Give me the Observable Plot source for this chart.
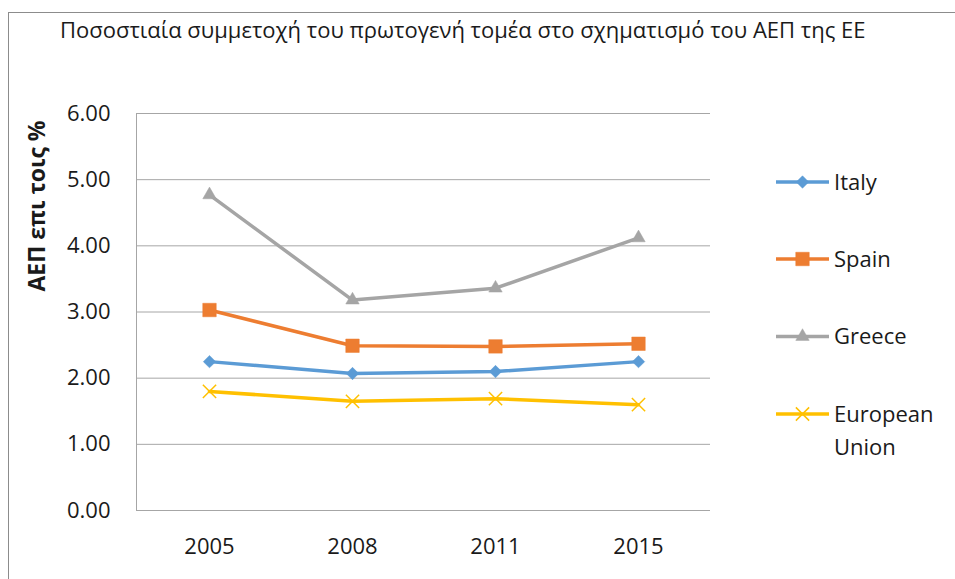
<!DOCTYPE html>
<html><head><meta charset="utf-8">
<script src="https://cdn.jsdelivr.net/npm/d3@7"></script>
<script src="https://cdn.jsdelivr.net/npm/@observablehq/plot@0.6"></script>
<style>
body{margin:0;background:#fff;}
#chart{width:955px;height:579px;overflow:hidden;}
</style></head><body><div id="chart"></div>
<script>
const years = ["2005", "2008", "2011", "2015"];
const italy = [2.25, 2.07, 2.10, 2.25];
const spain = [3.03, 2.49, 2.48, 2.52];
const greece = [4.77, 3.18, 3.36, 4.12];
const eu = [1.80, 1.65, 1.69, 1.60];
const seriesNames = ["Italy", "Spain", "Greece", "European Union"];
const seriesValues = [italy, spain, greece, eu];
const seriesColors = ["#5b9bd5", "#ed7d31", "#a5a5a5", "#ffc000"];
const seriesSymbols = ["diamond2", "square", "triangle", "times"];
const yTicks = [0, 1, 2, 3, 4, 5, 6];
const titleText = "Ποσοστιαία συμμετοχή του πρωτογενή τομέα στο σχηματισμό του ΑΕΠ της ΕΕ";
const yLabel = "ΑΕΠ επι τοις %";

const rows = seriesNames.flatMap((s, i) => years.map((yr, j) => ({series: s, year: yr, value: seriesValues[i][j]})));

const font = "'Open Sans', sans-serif";
const symbolR = {"diamond2": 5.6, "square": 7.6, "triangle": 5.0, "times": 6.1};
const gridColor = "#a6a6a6";
const tickFont = 22;

const plot = Plot.plot({
  width: 955, height: 579,
  marginLeft: 136, marginRight: 245, marginTop: 113, marginBottom: 69,
  style: {fontFamily: font, fontSize: tickFont + "px", color: "#1a1a1a", background: "#fff"},
  x: {type: "point", domain: years, padding: 0.5, label: null},
  y: {domain: [0, 6], label: null},
  color: {domain: seriesNames, range: seriesColors},
  marks: [
    Plot.gridY(yTicks, {stroke: gridColor, strokeOpacity: 1, strokeWidth: 1}),
    Plot.frame({anchor: "left", stroke: gridColor, strokeOpacity: 1}),
    Plot.axisY(yTicks, {tickSize: 0, tickPadding: 26, tickFormat: d => d.toFixed(2), fontSize: tickFont, label: null}),
    Plot.axisX({tickSize: 0, tickPadding: 28, fontSize: tickFont, label: null}),
    Plot.line(rows, {x: "year", y: "value", z: "series", stroke: "series", strokeWidth: 3.5}),
    ...seriesNames.map((s, i) => Plot.dot(rows.filter(d => d.series === s), {
      x: "year", y: "value",
      symbol: seriesSymbols[i],
      r: symbolR[seriesSymbols[i]],
      fill: seriesSymbols[i] === "times" ? "none" : seriesColors[i],
      stroke: seriesColors[i],
      strokeWidth: seriesSymbols[i] === "times" ? 1.5 : 0.5
    }))
  ]
});

const svg = d3.select(plot);
// outer chart border
svg.insert("rect", ":first-child")
  .attr("x", 8.5).attr("y", 12.5).attr("width", 1000).attr("height", 700)
  .attr("fill", "#fff").attr("stroke", "#8c8c8c").attr("stroke-width", 1);

svg.append("text").attr("x", 60).attr("y", 38).attr("text-anchor", "start")
  .attr("font-family", font).attr("font-size", 22).attr("fill", "#1a1a1a")
  .text(titleText);

svg.append("text")
  .attr("transform", "translate(45,206) rotate(-90)")
  .attr("text-anchor", "middle")
  .attr("font-family", font).attr("font-size", 23).attr("font-weight", "bold").attr("fill", "#1a1a1a")
  .text(yLabel);

// legend
const legendY = [182, 259, 336.5, 414];
const symMap = {"diamond2": d3.symbolDiamond2, "square": d3.symbolSquare, "triangle": d3.symbolTriangle, "times": d3.symbolTimes};
seriesNames.forEach((s, i) => {
  const g = svg.append("g").attr("transform", `translate(0,${legendY[i]})`);
  g.append("line").attr("x1", 776).attr("x2", 829).attr("y1", 0).attr("y2", 0)
    .attr("stroke", seriesColors[i]).attr("stroke-width", 3.5);
  const sym = seriesSymbols[i];
  const r = symbolR[sym];
  g.append("path").attr("transform", "translate(802.5,0)")
    .attr("d", d3.symbol(symMap[sym], Math.PI * r * r)())
    .attr("fill", sym === "times" ? "none" : seriesColors[i])
    .attr("stroke", seriesColors[i]).attr("stroke-width", sym === "times" ? 1.5 : 0.5);
  const words = s === "European Union" ? ["European", "Union"] : [s];
  words.forEach((w, k) => {
    g.append("text").attr("x", 834).attr("y", k * 33).attr("dy", "0.36em").attr("text-anchor", "start")
      .attr("font-family", font).attr("font-size", 22).attr("fill", "#1a1a1a").text(w);
  });
});

document.getElementById("chart").appendChild(plot);
</script>
</body></html>
